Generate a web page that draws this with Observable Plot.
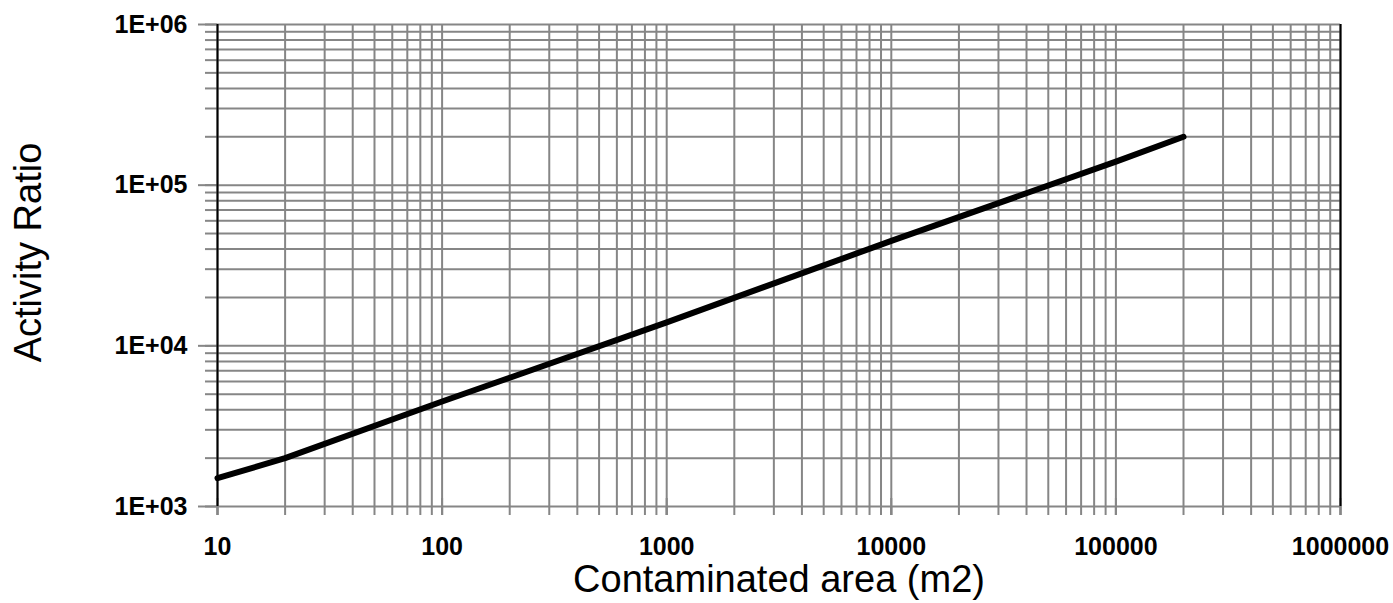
<!DOCTYPE html>
<html>
<head>
<meta charset="utf-8">
<script src="https://cdn.jsdelivr.net/npm/d3@7"></script>
<script src="https://cdn.jsdelivr.net/npm/@observablehq/plot@0.6"></script>
<style>
  html, body { margin: 0; padding: 0; background: #fff; }
  #chart { width: 1393px; height: 603px; }
</style>
</head>
<body>
<div id="chart"></div>
<script>
// Data
const area = [10, 20, 100, 1000, 10000, 100000, 200000];
const ratio = [1500, 2000, 4500, 14000, 45000, 140000, 200000];

// Tick values and labels
const xMajor = [10, 100, 1000, 10000, 100000, 1000000];
const xLabels = ["10", "100", "1000", "10000", "100000", "1000000"];
const yMajor = [1e3, 1e4, 1e5, 1e6];
const yLabels = ["1E+03", "1E+04", "1E+05", "1E+06"];
const mantissas = [1, 2, 3, 4, 5, 6, 7, 8, 9];
const xDecades = [10, 100, 1000, 10000, 100000];
const yDecades = [1e3, 1e4, 1e5];
const xGrid = xDecades.flatMap(d => mantissas.map(m => m * d)).concat([1e6]);
const yGrid = yDecades.flatMap(d => mantissas.map(m => m * d)).concat([1e6]);

const xTitle = "Contaminated area (m2)";
const yTitle = "Activity Ratio";

const gray = "#868686";
const series = area.map((a, i) => ({area: a, ratio: ratio[i]}));
const xFmt = d => xLabels[xMajor.findIndex(v => Math.abs(v - d) < 1e-6 * v)];
const yFmt = d => yLabels[yMajor.findIndex(v => Math.abs(v - d) < 1e-6 * v)];

const chart = Plot.plot({
  width: 1393,
  height: 603,
  marginLeft: 217,
  marginRight: 53,
  marginTop: 24,
  marginBottom: 97,
  x: {type: "log", domain: [10, 1e6]},
  y: {type: "log", domain: [1e3, 1e6]},
  style: {
    fontFamily: "'Liberation Sans', Arial, sans-serif",
    fontSize: "25px",
    fontWeight: "bold",
    background: "white",
    color: "black",
    overflow: "visible"
  },
  marks: [
    Plot.gridX(xGrid, {stroke: gray, strokeOpacity: 1, strokeWidth: 2}),
    Plot.gridY(yGrid, {stroke: gray, strokeOpacity: 1, strokeWidth: 2}),
    // minor outward ticks
    Plot.axisX({ticks: xGrid, tickSize: 9, tickFormat: () => "", stroke: gray, strokeWidth: 2, label: null}),
    Plot.axisY({ticks: yGrid, tickSize: 12, tickFormat: () => "", stroke: gray, strokeWidth: 2, label: null}),
    // major crossing ticks on x
    Plot.axisX({ticks: xMajor, tickSize: 17, dy: -8, tickFormat: () => "", stroke: gray, strokeWidth: 2, label: null}),
    // major labels
    Plot.axisX({ticks: xMajor, tickSize: 9, tickPadding: 22, tickFormat: xFmt, stroke: gray, strokeWidth: 2, fill: "black", label: null}),
    Plot.axisY({ticks: yMajor, tickSize: 19, tickPadding: 11, tickFormat: yFmt, stroke: gray, strokeWidth: 2, fill: "black", label: null}),
    // black frame sides
    Plot.ruleX([10, 1e6], {stroke: "black", strokeWidth: 2}),
    // the curve
    Plot.line(series, {x: "area", y: "ratio", stroke: "black", strokeWidth: 6}),
    // axis titles
    Plot.text([xTitle], {frameAnchor: "bottom", textAnchor: "middle", lineAnchor: "middle", dy: 73, fontSize: 38, fontWeight: "normal", fill: "black"}),
    Plot.text([yTitle], {frameAnchor: "left", textAnchor: "middle", lineAnchor: "middle", rotate: -90, dx: -189, dy: -13, fontSize: 38, fontWeight: "normal", fill: "black"})
  ]
});
document.getElementById("chart").appendChild(chart);
</script>
</body>
</html>
